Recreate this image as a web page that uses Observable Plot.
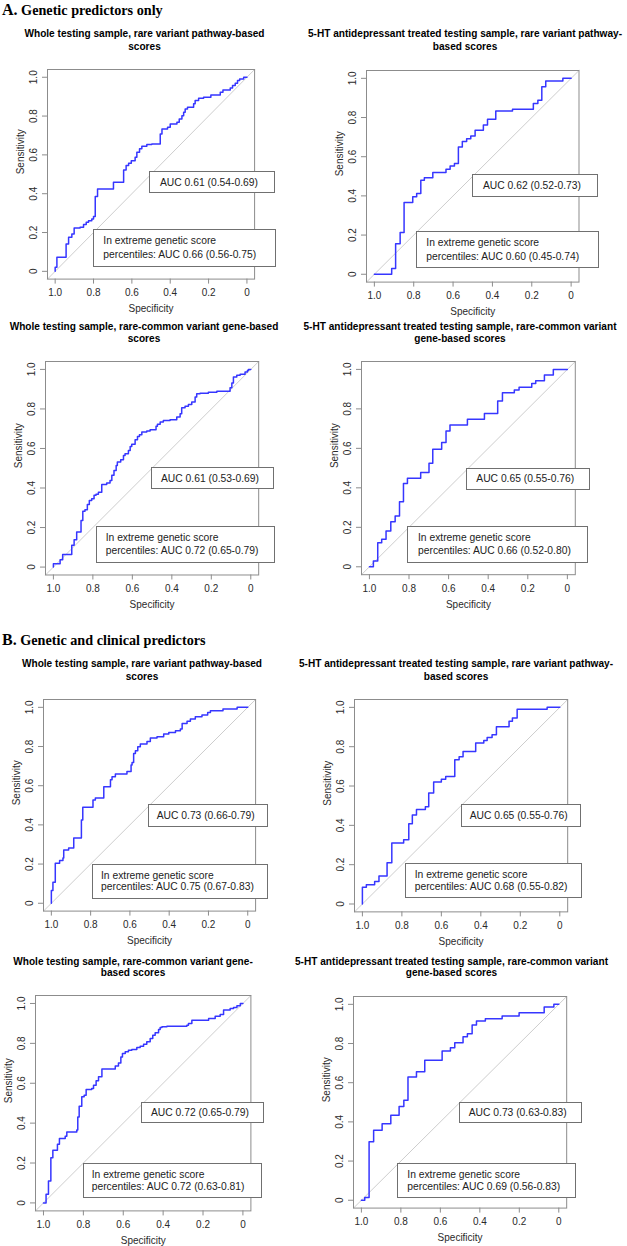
<!DOCTYPE html>
<html><head><meta charset="utf-8">
<script src="https://cdn.jsdelivr.net/npm/d3@7"></script>
<script src="https://cdn.jsdelivr.net/npm/@observablehq/plot@0.6"></script>
<style>
html,body{margin:0;padding:0;background:#fff;}
#root{position:relative;width:627px;height:1246px;overflow:hidden;font-family:"Liberation Sans",Arial,sans-serif;}
.hdr{position:absolute;left:2px;font-family:"Liberation Serif","Times New Roman",serif;font-weight:bold;font-size:14.2px;line-height:14px;white-space:nowrap;color:#000;}
.hdr .big{font-size:16px;line-height:14px;}
.ttl{position:absolute;font-weight:bold;font-size:10.1px;line-height:12px;white-space:nowrap;color:#000;transform:translateX(-50%);text-align:center;}
.box{position:absolute;border:1px solid #707070;box-sizing:border-box;background:#fff;}
.bt{position:absolute;font-size:10.3px;line-height:12px;white-space:nowrap;color:#222;}
</style>
</head><body><div id="root"></div>
<script>
// ---------- data ----------
const headerA = ["A.", "Genetic predictors only"];
const headerB = ["B.", "Genetic and clinical predictors"];
const specTicks = [1, 0.8, 0.6, 0.4, 0.2, 0];
const sensTicks = [0, 0.2, 0.4, 0.6, 0.8, 1];
const xLabel = ["Specificity"];
const yLabel = ["Sensitivity"];

const titleA1 = ["Whole testing sample, rare variant pathway-based", "scores"];
const titleA2 = ["5-HT antidepressant treated testing sample, rare variant pathway-", "based scores"];
const titleA3 = ["Whole testing sample, rare-common variant gene-based", "scores"];
const titleA4 = ["5-HT antidepressant treated testing sample, rare-common variant", "gene-based scores"];
const titleB1 = ["Whole testing sample, rare variant pathway-based", "scores"];
const titleB2 = ["5-HT antidepressant treated testing sample, rare variant pathway-", "based scores"];
const titleB3 = ["Whole testing sample, rare-common variant gene-", "based scores"];
const titleB4 = ["5-HT antidepressant treated testing sample, rare-common variant", "gene-based scores"];

const aucMain = ["AUC 0.61 (0.54-0.69)", "AUC 0.62 (0.52-0.73)", "AUC 0.61 (0.53-0.69)", "AUC 0.65 (0.55-0.76)",
                 "AUC 0.73 (0.66-0.79)", "AUC 0.65 (0.55-0.76)", "AUC 0.72 (0.65-0.79)", "AUC 0.73 (0.63-0.83)"];
const extremeLine1 = "In extreme genetic score";
const aucExtreme = ["percentiles: AUC 0.66 (0.56-0.75)", "percentiles: AUC 0.60 (0.45-0.74)", "percentiles: AUC 0.72 (0.65-0.79)", "percentiles: AUC 0.66 (0.52-0.80)",
                    "percentiles: AUC 0.75 (0.67-0.83)", "percentiles: AUC 0.68 (0.55-0.82)", "percentiles: AUC 0.72 (0.63-0.81)", "percentiles: AUC 0.69 (0.56-0.83)"];

// ROC step curves: specificity / sensitivity at the end of each horizontal run
const specA1 = [1, 0.991, 0.943, 0.930, 0.913, 0.901, 0.870, 0.852, 0.838, 0.826, 0.809, 0.800, 0.791, 0.779, 0.696, 0.643, 0.630, 0.617, 0.603, 0.583, 0.574, 0.560, 0.548, 0.522, 0.496, 0.452, 0.443, 0.414, 0.400, 0.365, 0.353, 0.339, 0.330, 0.322, 0.310, 0.278, 0.270, 0.252, 0.226, 0.188, 0.139, 0.125, 0.087, 0.075, 0.061, 0.049, 0.038, 0.017, 0];
const sensA1 = [0, 0.021, 0.072, 0.141, 0.175, 0.192, 0.223, 0.227, 0.241, 0.253, 0.261, 0.270, 0.282, 0.385, 0.424, 0.459, 0.522, 0.545, 0.557, 0.570, 0.588, 0.613, 0.631, 0.644, 0.653, 0.656, 0.708, 0.734, 0.742, 0.759, 0.768, 0.785, 0.802, 0.820, 0.837, 0.845, 0.863, 0.880, 0.892, 0.897, 0.909, 0.923, 0.935, 0.945, 0.957, 0.969, 0.983, 0.991, 1];

const specA2 = [1, 0.912, 0.892, 0.869, 0.849, 0.805, 0.785, 0.764, 0.746, 0.703, 0.636, 0.615, 0.593, 0.573, 0.553, 0.531, 0.510, 0.488, 0.446, 0.425, 0.383, 0.298, 0.192, 0.169, 0.149, 0.129, 0.042, 0];
const sensA2 = [0, 0, 0.029, 0.156, 0.213, 0.366, 0.395, 0.412, 0.480, 0.493, 0.519, 0.536, 0.553, 0.565, 0.650, 0.677, 0.692, 0.706, 0.735, 0.762, 0.791, 0.833, 0.842, 0.871, 0.888, 0.957, 0.986, 1];

const specA3 = [1, 0.966, 0.953, 0.907, 0.895, 0.882, 0.860, 0.851, 0.840, 0.828, 0.818, 0.806, 0.794, 0.784, 0.772, 0.755, 0.730, 0.713, 0.704, 0.693, 0.682, 0.676, 0.659, 0.645, 0.637, 0.620, 0.611, 0.603, 0.586, 0.574, 0.564, 0.552, 0.527, 0.510, 0.480, 0.473, 0.459, 0.443, 0.409, 0.375, 0.358, 0.350, 0.333, 0.316, 0.299, 0.282, 0.274, 0.257, 0.215, 0.172, 0.105, 0.096, 0.088, 0.071, 0.054, 0.029, 0.017, 0.012, 0];
const sensA3 = [0, 0.017, 0.037, 0.064, 0.110, 0.138, 0.177, 0.236, 0.283, 0.290, 0.317, 0.337, 0.346, 0.363, 0.368, 0.379, 0.418, 0.425, 0.438, 0.464, 0.489, 0.514, 0.531, 0.543, 0.565, 0.573, 0.590, 0.610, 0.621, 0.644, 0.661, 0.669, 0.683, 0.688, 0.695, 0.712, 0.722, 0.734, 0.742, 0.745, 0.759, 0.776, 0.806, 0.813, 0.823, 0.835, 0.860, 0.877, 0.880, 0.885, 0.890, 0.907, 0.931, 0.961, 0.970, 0.975, 0.987, 0.995, 1];

const specA4 = [1, 0.980, 0.958, 0.938, 0.916, 0.892, 0.870, 0.848, 0.828, 0.808, 0.741, 0.699, 0.680, 0.635, 0.613, 0.593, 0.505, 0.419, 0.352, 0.328, 0.268, 0.244, 0.180, 0.160, 0.116, 0.071, 0];
const sensA4 = [0, 0, 0.029, 0.122, 0.139, 0.181, 0.228, 0.257, 0.329, 0.422, 0.448, 0.478, 0.524, 0.596, 0.630, 0.688, 0.718, 0.748, 0.777, 0.840, 0.882, 0.895, 0.909, 0.929, 0.943, 0.971, 1];

const specB1 = [1, 0.992, 0.980, 0.958, 0.941, 0.937, 0.912, 0.886, 0.847, 0.840, 0.788, 0.776, 0.733, 0.699, 0.691, 0.674, 0.615, 0.594, 0.589, 0.581, 0.572, 0.560, 0.547, 0.513, 0.496, 0.462, 0.428, 0.402, 0.368, 0.343, 0.334, 0.309, 0.292, 0.267, 0.233, 0.204, 0.190, 0.126, 0.054, 0];
const sensB1 = [0, 0.065, 0.107, 0.204, 0.218, 0.231, 0.272, 0.282, 0.333, 0.425, 0.490, 0.527, 0.537, 0.595, 0.631, 0.646, 0.660, 0.673, 0.706, 0.719, 0.765, 0.779, 0.799, 0.813, 0.825, 0.844, 0.850, 0.864, 0.872, 0.881, 0.889, 0.918, 0.929, 0.940, 0.952, 0.961, 0.974, 0.983, 0.991, 1];

const specB2 = [1, 0.980, 0.938, 0.916, 0.875, 0.851, 0.791, 0.765, 0.747, 0.726, 0.681, 0.664, 0.639, 0.600, 0.578, 0.532, 0.510, 0.490, 0.426, 0.385, 0.368, 0.343, 0.321, 0.257, 0.240, 0.216, 0.064, 0];
const sensB2 = [0, 0.085, 0.098, 0.114, 0.142, 0.210, 0.310, 0.327, 0.408, 0.453, 0.480, 0.495, 0.564, 0.620, 0.634, 0.649, 0.734, 0.749, 0.775, 0.819, 0.831, 0.847, 0.861, 0.902, 0.929, 0.946, 0.990, 1];

const specB3 = [1, 0.987, 0.975, 0.963, 0.953, 0.930, 0.920, 0.891, 0.883, 0.833, 0.828, 0.821, 0.808, 0.796, 0.786, 0.758, 0.749, 0.736, 0.724, 0.707, 0.640, 0.624, 0.612, 0.604, 0.590, 0.574, 0.557, 0.532, 0.515, 0.498, 0.482, 0.465, 0.452, 0.440, 0.423, 0.415, 0.406, 0.381, 0.281, 0.273, 0.256, 0.172, 0.139, 0.114, 0.097, 0.064, 0.047, 0.030, 0.013, 0];
const sensB3 = [0, 0, 0.043, 0.110, 0.227, 0.264, 0.294, 0.323, 0.334, 0.356, 0.365, 0.431, 0.485, 0.532, 0.540, 0.569, 0.574, 0.590, 0.612, 0.632, 0.671, 0.686, 0.702, 0.732, 0.749, 0.758, 0.766, 0.769, 0.779, 0.786, 0.796, 0.808, 0.824, 0.841, 0.853, 0.870, 0.880, 0.883, 0.886, 0.891, 0.900, 0.916, 0.925, 0.936, 0.945, 0.967, 0.975, 0.980, 0.988, 1];

const specB4 = [1, 0.983, 0.961, 0.938, 0.895, 0.851, 0.809, 0.785, 0.764, 0.721, 0.679, 0.591, 0.549, 0.527, 0.485, 0.463, 0.439, 0.417, 0.372, 0.287, 0.201, 0.074, 0.025, 0];
const sensB4 = [0, 0, 0.014, 0.299, 0.357, 0.391, 0.434, 0.478, 0.510, 0.629, 0.656, 0.714, 0.762, 0.779, 0.804, 0.835, 0.850, 0.895, 0.915, 0.927, 0.940, 0.957, 0.986, 1];

// ---------- layout (page pixels) ----------
const layout = [
  {spec: specA1, sens: sensA1, title: titleA1, L: 47.3, T: 68.9, R: 254.4, B: 278.5, tcx: 144.5, ty: [34, 47], b1: [149.3, 170.7, 275.3, 192.7], t1: [160, 182.7], b2: [93.3, 229.3, 276, 266.7], t2: [103.3, 240.7, 255]},
  {spec: specA2, sens: sensA2, title: titleA2, L: 366.1, T: 69.5, R: 578.6, B: 281.1, tcx: 465, ty: [34, 47], b1: [472.3, 174, 598, 197.3], t1: [483, 185.7], b2: [416.3, 230.7, 598.7, 267.7], t2: [426.3, 243.3, 256.7]},
  {spec: specA3, sens: sensA3, title: titleA3, L: 45.4, T: 361.1, R: 258.6, B: 574.6, tcx: 144, ty: [326.7, 339], b1: [151, 466.7, 274.3, 489.3], t1: [161, 479.3], b2: [95.7, 526, 275, 562.7], t2: [105.7, 538.3, 550.7]},
  {spec: specA4, sens: sensA4, title: titleA4, L: 361.1, T: 361.4, R: 574.9, B: 574.6, tcx: 460, ty: [326.7, 339], b1: [466.3, 467.7, 589.7, 490], t1: [476.3, 479.3], b2: [407.3, 526, 588, 562.7], t2: [418, 538.3, 550.7]},
  {spec: specB1, sens: sensB1, title: titleB1, L: 43.1, T: 698.9, R: 255.2, B: 910.5, tcx: 142, ty: [664.3, 676.7], b1: [147.7, 804.3, 268.3, 826.7], t1: [156.7, 816], b2: [91.7, 864, 268.3, 899.3], t2: [101, 876, 887.3]},
  {spec: specB2, sens: sensB2, title: titleB2, L: 354.4, T: 698.8, R: 567.6, B: 911.2, tcx: 456, ty: [664.3, 676.7], b1: [460.7, 804, 581.3, 826.7], t1: [469.7, 816], b2: [405.3, 863.3, 582.3, 898.3], t2: [414.7, 875.3, 887.3]},
  {spec: specB3, sens: sensB3, title: titleB3, L: 35.3, T: 995.3, R: 250.7, B: 1210.7, tcx: 133, ty: [961.7, 973], b1: [141, 1101.7, 264, 1123.3], t1: [151, 1113.3], b2: [82.7, 1162.7, 261.7, 1198.3], t2: [91.7, 1175, 1186.7]},
  {spec: specB4, sens: sensB4, title: titleB4, L: 353.4, T: 995.5, R: 566.6, B: 1207.1, tcx: 451.5, ty: [961.7, 973], b1: [458.7, 1101.7, 582, 1123.3], t1: [468.7, 1113.3], b2: [397, 1163.3, 576.3, 1198.3], t2: [407.3, 1175, 1186.7]}
];

const root = document.getElementById("root");
const fmt = d => d === 0 ? "0" : d.toFixed(1);
const EXT = 0.04;

function addDiv(cls, html, left, top) {
  const d = document.createElement("div");
  d.className = cls;
  d.innerHTML = html;
  d.style.left = left + "px";
  d.style.top = top + "px";
  root.appendChild(d);
  return d;
}

// section headers
addDiv("hdr", `<span class="big">${headerA[0]}</span> ${headerA[1]}`, 2, 3);
addDiv("hdr", `<span class="big">${headerB[0]}</span> ${headerB[1]}`, 2, 633);

layout.forEach((p, i) => {
  const mL = 42, mT = 6, mR = 6, mB = 40;
  const fw = p.R - p.L, fh = p.B - p.T;
  const data = p.spec.map((s, j) => ({spec: s, sens: p.sens[j]}));
  const xDom = [1 + EXT, -EXT], yDom = [-EXT, 1 + EXT];
  const diag = [{spec: xDom[0], sens: yDom[0]}, {spec: xDom[1], sens: yDom[1]}];
  const svg = Plot.plot({
    width: fw + mL + mR,
    height: fh + mT + mB,
    marginLeft: mL, marginTop: mT, marginRight: mR, marginBottom: mB,
    style: {fontFamily: "'Liberation Sans', Arial, sans-serif", fontSize: "10px", color: "#2a2a2a", background: "transparent", overflow: "visible"},
    x: {domain: xDom},
    y: {domain: yDom},
    marks: [
      Plot.line(diag, {x: "spec", y: "sens", stroke: "#cdcdcd", strokeWidth: 1}),
      Plot.frame({stroke: "#8c8c8c", strokeWidth: 1}),
      Plot.line(data, {x: "spec", y: "sens", curve: "step-before", stroke: "#3636ff", strokeWidth: 1.5}),
      Plot.axisX({ticks: specTicks, tickFormat: fmt, tickSize: 5, tickPadding: 5, stroke: "#8c8c8c", fill: "#2a2a2a", label: null}),
      Plot.axisY({ticks: sensTicks, tickFormat: () => "", tickSize: 5, stroke: "#8c8c8c", label: null}),
      Plot.text(sensTicks, {y: d => d, text: fmt, frameAnchor: "left", dx: -14, rotate: -90, textAnchor: "middle", lineAnchor: "middle", fill: "#2a2a2a"}),
      Plot.text(xLabel, {text: d => d, frameAnchor: "bottom", dy: 30, lineAnchor: "middle", fill: "#2a2a2a"}),
      Plot.text(yLabel, {text: d => d, frameAnchor: "left", dx: -27, rotate: -90, lineAnchor: "middle", fill: "#2a2a2a"})
    ]
  });
  svg.style.position = "absolute";
  svg.style.left = (p.L - mL) + "px";
  svg.style.top = (p.T - mT) + "px";
  root.appendChild(svg);

  // panel title
  p.title.forEach((line, k) => {
    addDiv("ttl", line, p.tcx, p.ty[k] - 6.2);
  });

  // AUC boxes
  const bx1 = addDiv("box", "", p.b1[0], p.b1[1]);
  bx1.style.width = (p.b1[2] - p.b1[0]) + "px";
  bx1.style.height = (p.b1[3] - p.b1[1]) + "px";
  addDiv("bt", aucMain[i], p.t1[0], p.t1[1] - 6.2);

  const bx2 = addDiv("box", "", p.b2[0], p.b2[1]);
  bx2.style.width = (p.b2[2] - p.b2[0]) + "px";
  bx2.style.height = (p.b2[3] - p.b2[1]) + "px";
  addDiv("bt", extremeLine1, p.t2[0], p.t2[1] - 6.2);
  addDiv("bt", aucExtreme[i], p.t2[0], p.t2[2] - 6.2);
});
</script>
</body></html>
